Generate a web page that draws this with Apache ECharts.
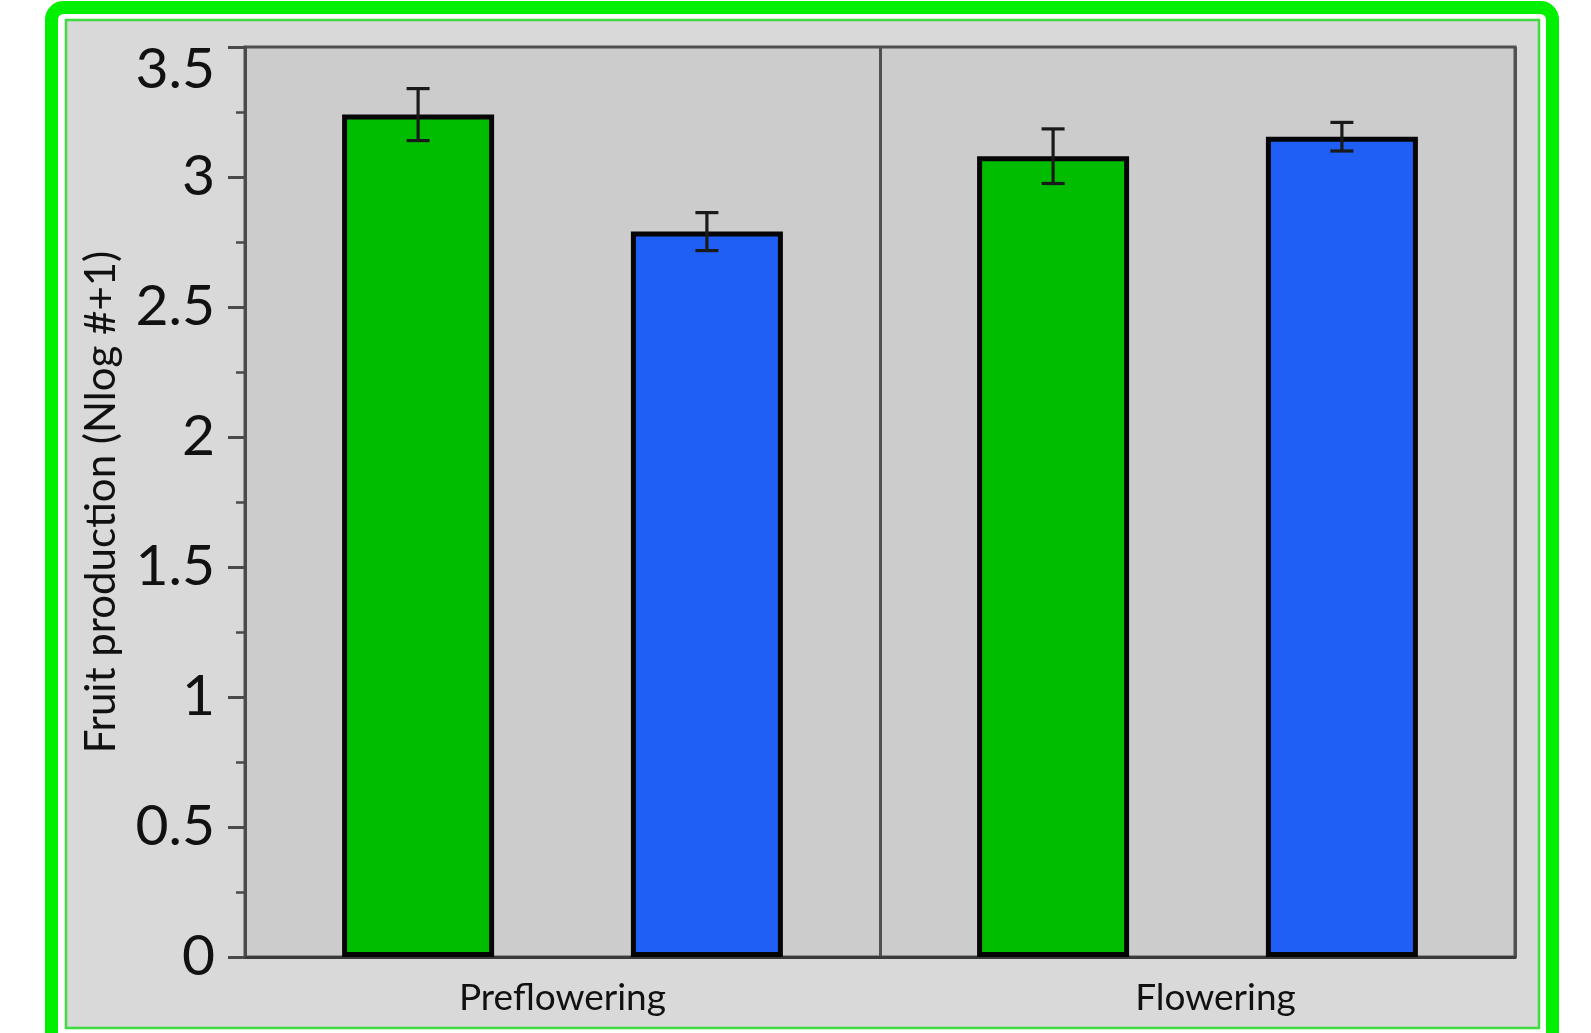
<!DOCTYPE html>
<html>
<head>
<meta charset="utf-8">
<title>Fruit production</title>
<script src="https://cdn.jsdelivr.net/npm/echarts@6/dist/echarts.min.js"></script>
<style>
  html, body { margin: 0; padding: 0; background: #ffffff; }
  #chart { width: 1591px; height: 1033px; }
</style>
</head>
<body>
<div id="chart"></div>
<script>
// Stages on the x axis
const categories = ['Preflowering', 'Flowering'];

// Mean fruit production (Nlog #+1) and standard errors per group
const greenMeans = [3.24, 3.08];
const greenErrors = [0.10, 0.105];
const blueMeans = [2.79, 3.155];
const blueErrors = [0.073, 0.055];

// y-axis range
const yMin = 0;
const yMax = 3.5;
const yStep = 0.5;

const FONT = 'Lato, "Open Sans", sans-serif';
const BAR_WIDTH = 152;
const BAR_GAP = 0.9;
// horizontal distance from a category centre to each bar centre
const BAR_OFFSET = BAR_WIDTH * (1 + BAR_GAP) / 2;

function errorBarSeries(means, errors, offset) {
  return {
    type: 'custom',
    z: 10,
    silent: true,
    data: categories.map((c, i) => [i, means[i], errors[i]]),
    renderItem: function (params, api) {
      const idx = api.value(0);
      const mean = api.value(1);
      const err = api.value(2);
      const hi = api.coord([idx, mean + err]);
      const lo = api.coord([idx, mean - err]);
      const x = hi[0] + offset;
      const cap = 11.5;
      const style = { stroke: '#1a1a1a', lineWidth: 3.2 };
      return {
        type: 'group',
        children: [
          { type: 'line', shape: { x1: x, y1: hi[1], x2: x, y2: lo[1] }, style: style },
          { type: 'line', shape: { x1: x - cap, y1: hi[1], x2: x + cap, y2: hi[1] }, style: style },
          { type: 'line', shape: { x1: x - cap, y1: lo[1], x2: x + cap, y2: lo[1] }, style: style }
        ]
      };
    }
  };
}

const chart = echarts.init(document.getElementById('chart'), null, { renderer: 'canvas' });

chart.setOption({
  backgroundColor: '#ffffff',
  animation: false,
  graphic: [
    {
      type: 'rect',
      z: -100,
      shape: { x: 51.5, y: 7.5, width: 1501, height: 1100, r: 12 },
      style: { fill: '#ffffff', stroke: '#00f000', lineWidth: 13 }
    },
    {
      type: 'rect',
      z: -99,
      shape: { x: 66, y: 20, width: 1473, height: 1008 },
      style: { fill: '#d9d9d9', stroke: '#3fdc3f', lineWidth: 2.5 }
    }
  ],
  grid: {
    left: 245,
    right: 76,
    top: 47,
    bottom: 76,
    show: true,
    backgroundColor: '#cccccc',
    borderColor: '#505050',
    borderWidth: 3
  },
  xAxis: {
    type: 'category',
    data: categories.map((c, i) => i === 1
      ? { value: c, textStyle: { padding: [0, 0, 0, 36] } }
      : { value: c }),
    axisLine: { show: true, lineStyle: { color: '#3a3a3a', width: 3 } },
    axisTick: { show: false },
    splitLine: { show: true, lineStyle: { color: '#505050', width: 3 } },
    axisLabel: {
      margin: 23,
      fontFamily: FONT,
      fontSize: 37,
      color: '#111111'
    }
  },
  yAxis: {
    type: 'value',
    min: yMin,
    max: yMax,
    interval: yStep,
    name: 'Fruit production (Nlog #+1)',
    nameLocation: 'middle',
    nameGap: 123,
    nameTextStyle: { fontFamily: FONT, fontSize: 42, color: '#111111' },
    axisLine: { show: true, lineStyle: { color: '#4a4a4a', width: 3 } },
    axisTick: { show: true, length: 17, lineStyle: { color: '#4a4a4a', width: 3 } },
    minorTick: { show: true, splitNumber: 2, length: 9, lineStyle: { color: '#4a4a4a', width: 2.5 } },
    splitLine: { show: false },
    axisLabel: {
      margin: 30,
      fontFamily: FONT,
      fontSize: 57,
      color: '#111111',
      formatter: function (v) {
        return v === yMax ? '{top|' + v + '}' : String(v);
      },
      rich: {
        top: { fontFamily: FONT, fontSize: 57, color: '#111111', padding: [46, 0, 0, 0] }
      }
    }
  },
  series: [
    {
      name: 'Green',
      type: 'bar',
      data: greenMeans,
      barWidth: BAR_WIDTH,
      barGap: (BAR_GAP * 100) + '%',
      itemStyle: { color: '#00bd00', borderColor: '#050505', borderWidth: 5 }
    },
    {
      name: 'Blue',
      type: 'bar',
      data: blueMeans,
      barWidth: BAR_WIDTH,
      barGap: (BAR_GAP * 100) + '%',
      itemStyle: { color: '#1f5ff5', borderColor: '#050505', borderWidth: 5 }
    },
    errorBarSeries(greenMeans, greenErrors, -BAR_OFFSET),
    errorBarSeries(blueMeans, blueErrors, BAR_OFFSET)
  ]
});
</script>
</body>
</html>
